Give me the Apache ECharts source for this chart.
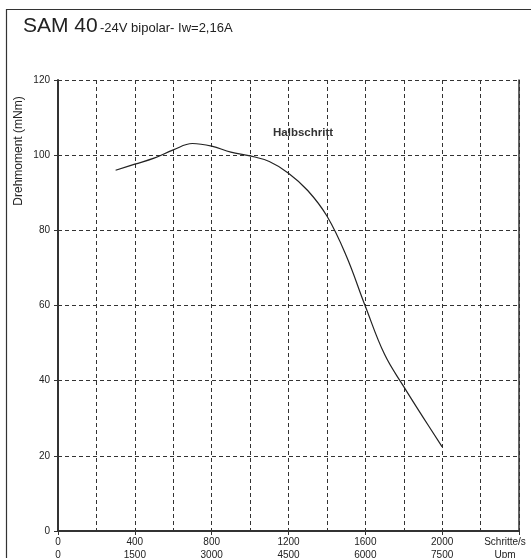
<!DOCTYPE html>
<html>
<head>
<meta charset="utf-8">
<script src="https://cdn.jsdelivr.net/npm/echarts@6/dist/echarts.min.js"></script>
<style>
html,body{margin:0;padding:0;background:#fff;}
#chart{width:531px;height:558px;}
</style>
</head>
<body>
<div id="chart"></div>
<script>
var stepsPerSecond = [300, 400, 500, 600, 700, 800, 900, 1000, 1100, 1200, 1300, 1400, 1500, 1600, 1700, 1800, 1900, 2000];
var torqueHalfStep = [96, 97.6, 99.2, 101.4, 103.1, 102.4, 100.8, 99.8, 98.3, 95.2, 90.6, 83.8, 73.3, 59.8, 47, 38.4, 30.3, 22.4];
var stepTickLabels = {0: '0', 400: '400', 800: '800', 1200: '1200', 1600: '1600', 2000: '2000'};
var rpmTickLabels = {0: '0', 400: '1500', 800: '3000', 1200: '4500', 1600: '6000', 2000: '7500'};
var xUnitTop = 'Schritte/s';
var xUnitBottom = 'Upm';
var yTicks = [0, 20, 40, 60, 80, 100, 120];

var seriesData = stepsPerSecond.map(function (s, i) { return [s, torqueHalfStep[i]]; });
var font = '"Liberation Sans", Arial, Helvetica, sans-serif';
var chart = echarts.init(document.getElementById('chart'));
var dash = {color: '#333', width: 1, type: [4, 3]};

chart.setOption({
  animation: false,
  backgroundColor: '#fff',
  title: [
    {text: 'SAM 40', left: 18, top: 11, textStyle: {fontFamily: font, fontSize: 21, fontWeight: 'normal', color: '#222'}},
    {text: '-24V bipolar- Iw=2,16A', left: 95, top: 17, textStyle: {fontFamily: font, fontSize: 13, fontWeight: 'normal', color: '#222'}}
  ],
  graphic: [
    {type: 'rect', left: 4, top: 7, shape: {width: 600, height: 600}, style: {fill: 'none', stroke: '#333', lineWidth: 1.2}, silent: true},
    {type: 'text', x: 19, y: 151, rotation: Math.PI / 2, style: {text: 'Drehmoment (mNm)', fontFamily: font, fontSize: 12, fill: '#222', align: 'center', verticalAlign: 'middle'}},
    {type: 'text', x: 273, y: 133, style: {text: 'Halbschritt', fontFamily: font, fontSize: 11.5, fontWeight: 'bold', fill: '#333', align: 'left', verticalAlign: 'middle'}}
  ],
  grid: {left: 58, right: 12, top: 80, bottom: 27, containLabel: false, outerBoundsMode: 'none'},
  xAxis: {
    type: 'value', min: 0, max: 2400, interval: 400,
    axisLine: {show: true, onZero: false, lineStyle: {color: '#333', width: 2}},
    axisTick: {show: true, length: 4, lineStyle: {color: '#333', width: 1}},
    axisLabel: {
      fontFamily: font, fontSize: 10, color: '#222', margin: 5, lineHeight: 13,
      showMaxLabel: true, hideOverlap: false,
      formatter: function (v) {
        if (v === 2400) return '{u|' + xUnitTop + '}\n{u|' + xUnitBottom + '}';
        if (stepTickLabels[v] !== undefined) return stepTickLabels[v] + '\n' + rpmTickLabels[v];
        return '';
      },
      rich: {u: {fontFamily: font, fontSize: 10, color: '#222', lineHeight: 13, padding: [0, 28, 0, 0], align: 'center'}}
    },
    splitLine: {show: true, lineStyle: dash},
    minorTick: {show: false, splitNumber: 2},
    minorSplitLine: {show: true, lineStyle: dash}
  },
  yAxis: [{
    type: 'value', min: 0, max: 120, interval: 20,
    axisLine: {show: true, lineStyle: {color: '#333', width: 2}},
    axisTick: {show: true, length: 4, lineStyle: {color: '#333', width: 1}},
    axisLabel: {fontFamily: font, fontSize: 10, color: '#222', margin: 8,
      formatter: function (v) { return yTicks.indexOf(v) >= 0 ? String(v) : ''; }},
    splitLine: {show: true, lineStyle: dash}
  }, {
    type: 'value', min: 0, max: 120, interval: 20, position: 'right',
    axisLine: {show: true, lineStyle: {color: '#333', width: 1.5}},
    axisTick: {show: false}, axisLabel: {show: false}, splitLine: {show: false}
  }],
  series: [{
    name: 'Halbschritt',
    type: 'line',
    data: seriesData,
    smooth: 0.4,
    showSymbol: false,
    lineStyle: {color: '#222', width: 1.2}
  }]
});
</script>
</body>
</html>
